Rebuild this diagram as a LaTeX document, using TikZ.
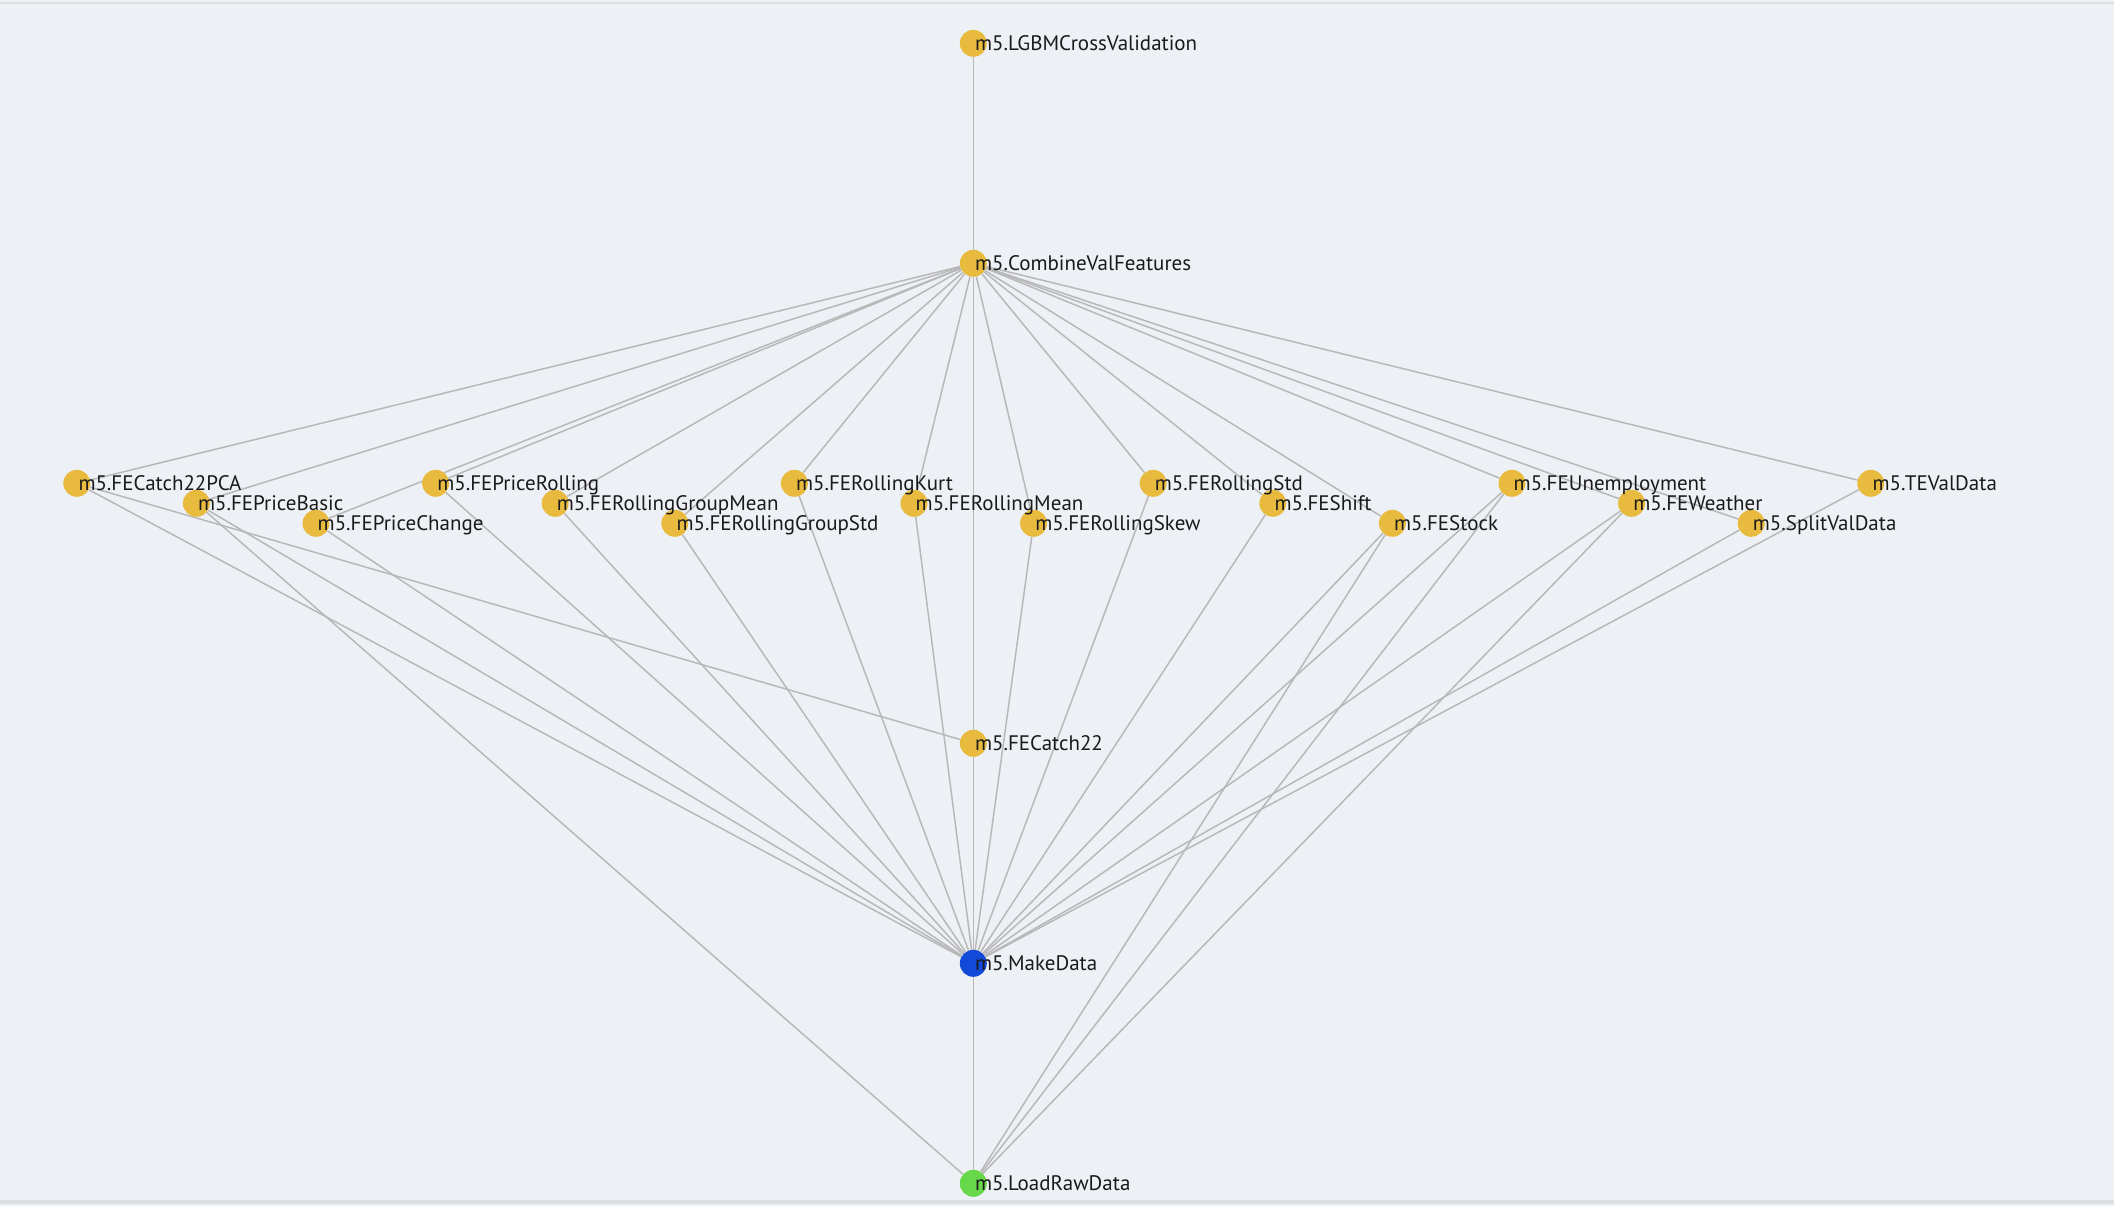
\documentclass[tikz,border=0pt]{standalone}
\usepackage{fontspec}
\setmainfont{PT Sans}
\definecolor{bgc}{HTML}{EDF0F5}
\definecolor{bandc}{HTML}{DCDEE2}
\definecolor{yel}{HTML}{E8BB3F}
\definecolor{blu}{HTML}{1249D8}
\definecolor{grn}{HTML}{66D84A}
\definecolor{edgec}{HTML}{B8B8B8}
\definecolor{txt}{HTML}{1A1A1A}
\pgfdeclarelayer{back}
\pgfdeclarelayer{edges}
\pgfsetlayers{back,edges,main}
\begin{document}
\begin{tikzpicture}[x=1pt,y=-1pt,
  task/.style={circle, fill=yel, minimum size=27pt, inner sep=0pt, draw=none},
  lbl/.style={anchor=base west, inner sep=0pt, xshift=1.5pt, yshift=-6.9pt,
    font=\fontsize{21}{24}\selectfont, text=txt},
  edge/.style={draw=edgec, line width=1.5pt}]
\begin{pgfonlayer}{back}
  \fill[bgc] (0,0) rectangle (2114,1206);
  \fill[bandc] (0,1.7) rectangle (2114,4.3);
  \fill[bandc] (0,1200) rectangle (2114,1204);
\end{pgfonlayer}
\useasboundingbox (0,0) rectangle (2114,1206);

\node[task] (lgbm) at (973.3,43.3) {};
\node[task] (comb) at (973.3,263.3) {};
\node[task] (fc) at (973.3,743.3) {};
\node[task, fill=blu] (make) at (973.3,963.3) {};
\node[task, fill=grn] (load) at (973.3,1183.3) {};

\node[task] (pca) at (76.8,483.3) {};
\node[task] (pbasic) at (196.4,503.3) {};
\node[task] (pchange) at (316.0,523.3) {};
\node[task] (proll) at (435.6,483.3) {};
\node[task] (rgmean) at (555.2,503.3) {};
\node[task] (rgstd) at (674.8,523.3) {};
\node[task] (rkurt) at (794.4,483.3) {};
\node[task] (rmean) at (914.0,503.3) {};
\node[task] (rskew) at (1033.6,523.3) {};
\node[task] (rstd) at (1153.2,483.3) {};
\node[task] (shift) at (1272.8,503.3) {};
\node[task] (stock) at (1392.4,523.3) {};
\node[task] (unemp) at (1512.0,483.3) {};
\node[task] (weather) at (1631.6,503.3) {};
\node[task] (split) at (1751.2,523.3) {};
\node[task] (teval) at (1870.8,483.3) {};

\node[lbl] (lgbm-t) at (lgbm.center) {m5.LGBMCrossValidation};
\node[lbl] (comb-t) at (comb.center) {m5.CombineValFeatures};
\node[lbl] (fc-t) at (fc.center) {m5.FECatch22};
\node[lbl] (make-t) at (make.center) {m5.MakeData};
\node[lbl] (load-t) at (load.center) {m5.LoadRawData};
\node[lbl] (pca-t) at (pca.center) {m5.FECatch22PCA};
\node[lbl] (pbasic-t) at (pbasic.center) {m5.FEPriceBasic};
\node[lbl] (pchange-t) at (pchange.center) {m5.FEPriceChange};
\node[lbl] (proll-t) at (proll.center) {m5.FEPriceRolling};
\node[lbl] (rgmean-t) at (rgmean.center) {m5.FERollingGroupMean};
\node[lbl] (rgstd-t) at (rgstd.center) {m5.FERollingGroupStd};
\node[lbl] (rkurt-t) at (rkurt.center) {m5.FERollingKurt};
\node[lbl] (rmean-t) at (rmean.center) {m5.FERollingMean};
\node[lbl] (rskew-t) at (rskew.center) {m5.FERollingSkew};
\node[lbl] (rstd-t) at (rstd.center) {m5.FERollingStd};
\node[lbl] (shift-t) at (shift.center) {m5.FEShift};
\node[lbl] (stock-t) at (stock.center) {m5.FEStock};
\node[lbl] (unemp-t) at (unemp.center) {m5.FEUnemployment};
\node[lbl] (weather-t) at (weather.center) {m5.FEWeather};
\node[lbl] (split-t) at (split.center) {m5.SplitValData};
\node[lbl] (teval-t) at (teval.center) {m5.TEValData};

\begin{pgfonlayer}{edges}
  \draw[edge] (comb) -- (lgbm);
  \foreach \n in {pca,pbasic,pchange,proll,rgmean,rgstd,rkurt,rmean,rskew,rstd,shift,stock,unemp,weather,split,teval}{
    \draw[edge] (comb) -- (\n);
    \draw[edge] (\n) -- (make);
  }
  \draw[edge] (comb) -- (fc);
  \draw[edge] (pca) -- (fc);
  \draw[edge] (fc) -- (make);
  \draw[edge] (make) -- (load);
  \draw[edge] (pbasic) -- (load);
  \draw[edge] (stock) -- (load);
  \draw[edge] (unemp) -- (load);
  \draw[edge] (weather) -- (load);
\end{pgfonlayer}
\end{tikzpicture}
\end{document}
